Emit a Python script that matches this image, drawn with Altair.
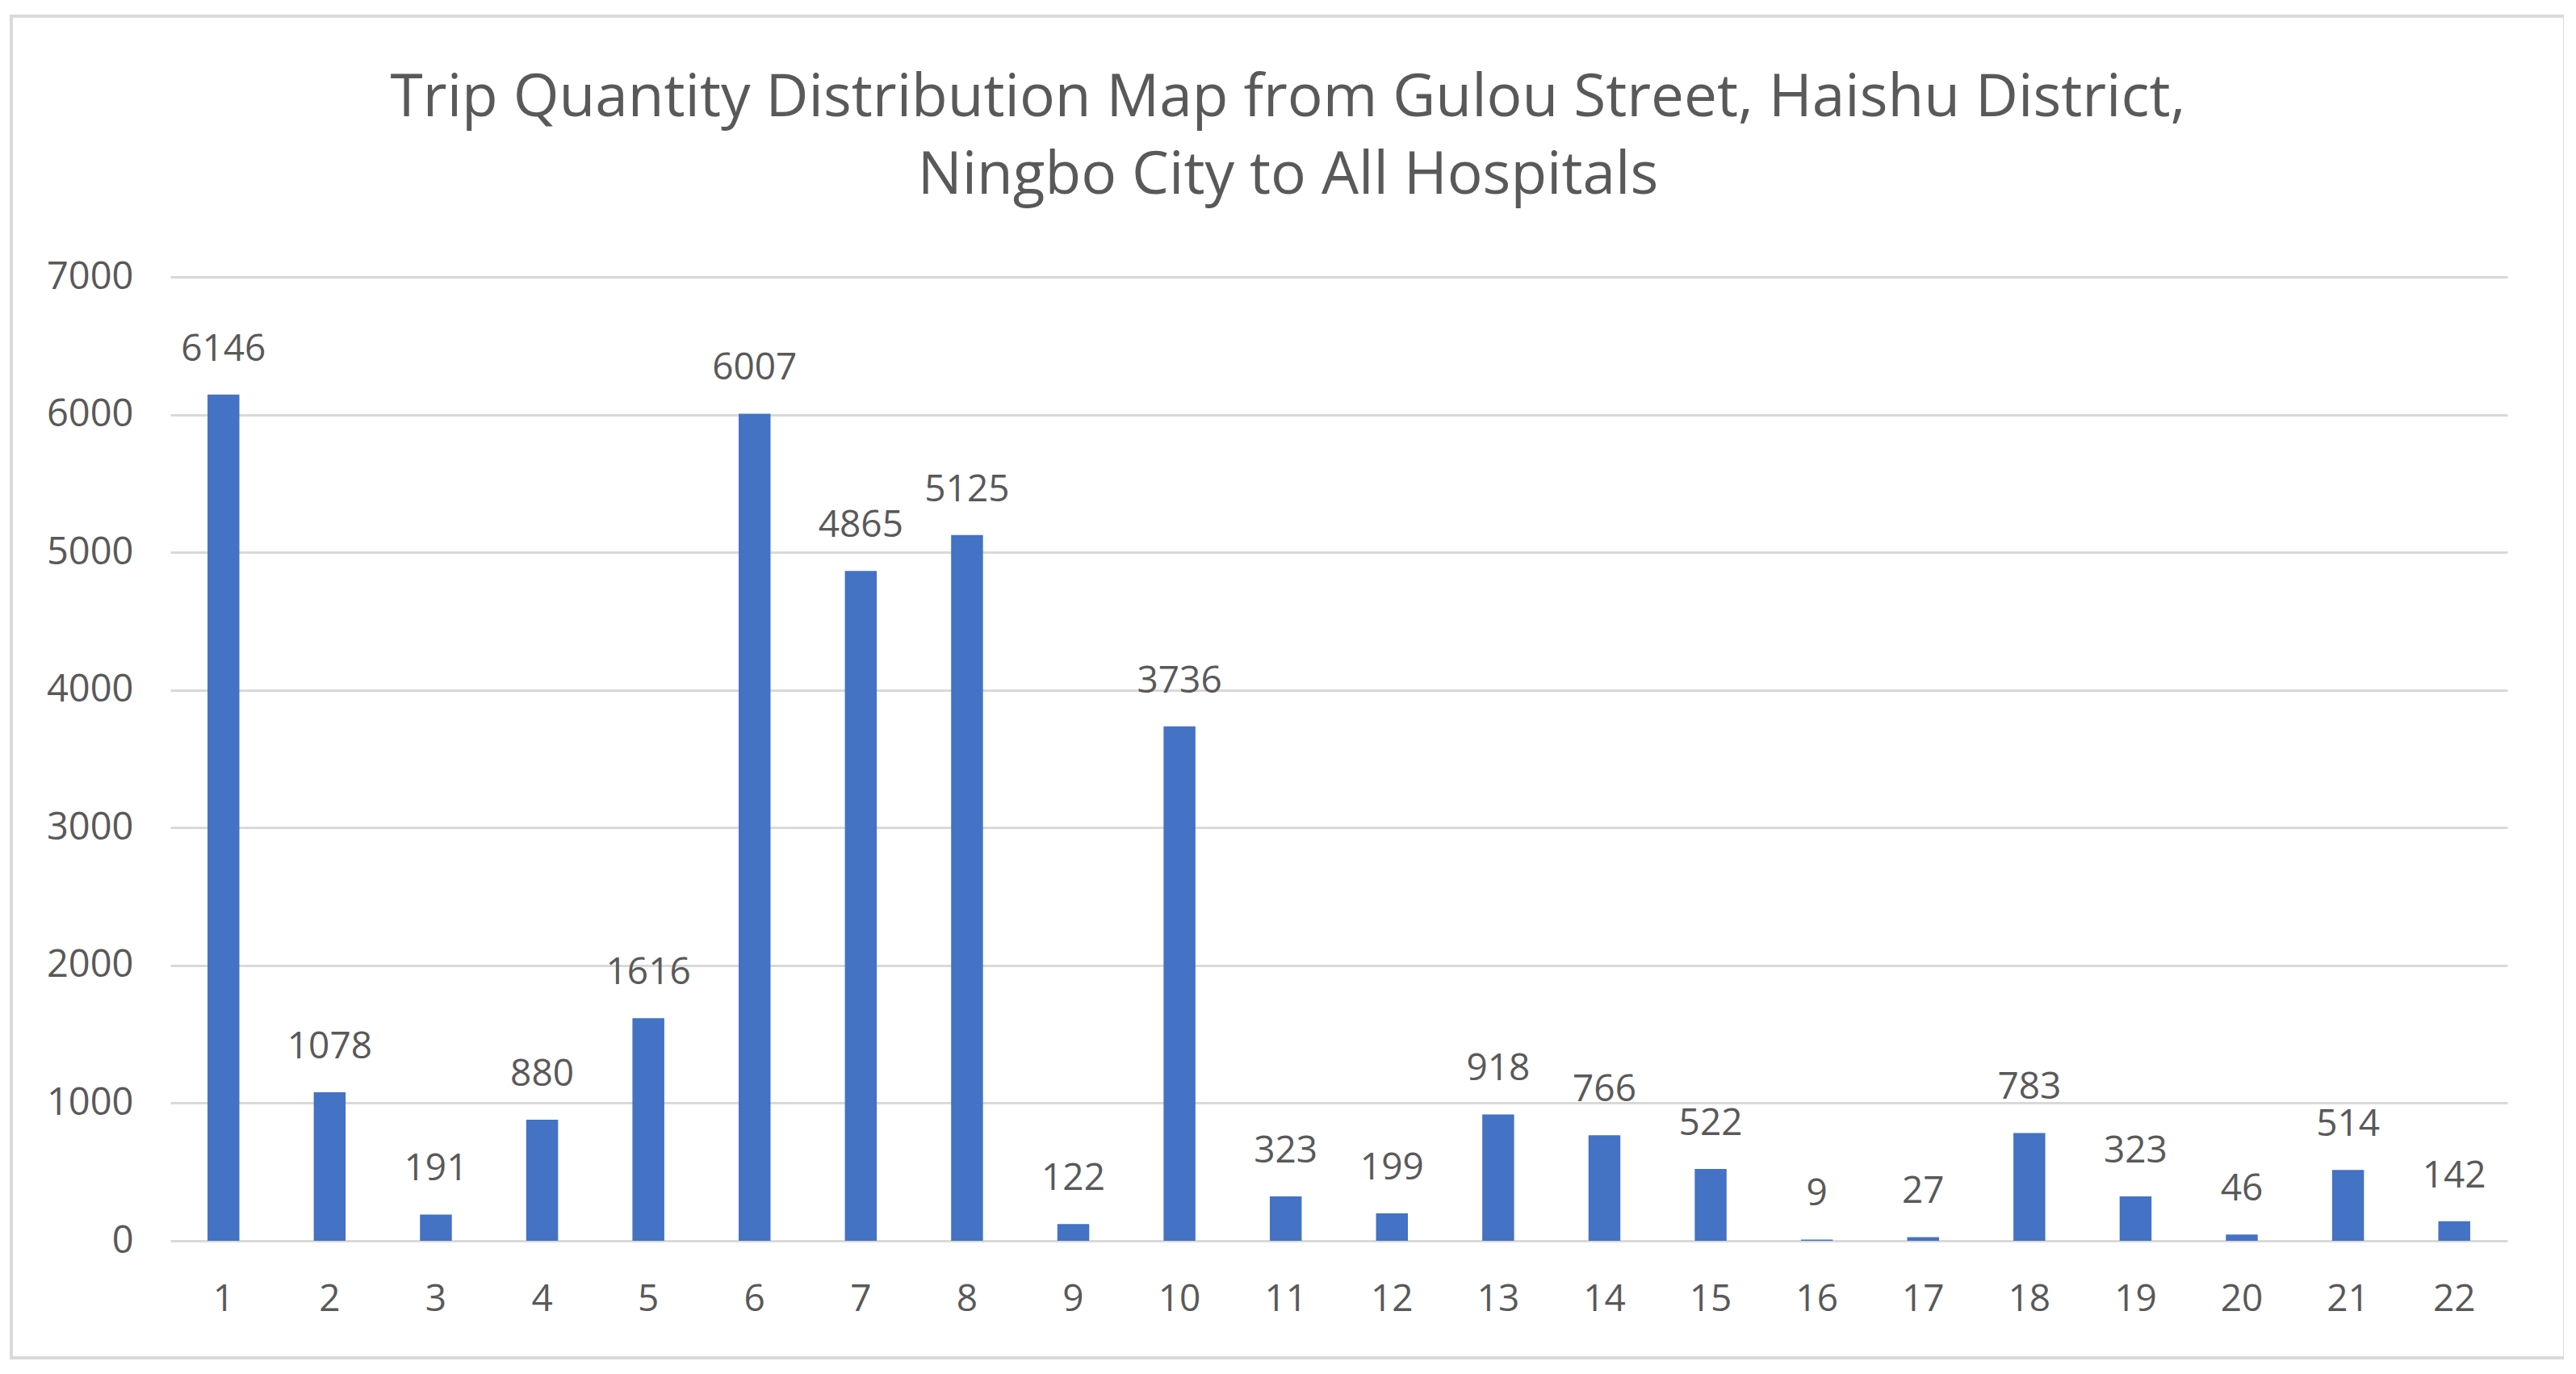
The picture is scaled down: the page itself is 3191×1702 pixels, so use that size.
import altair as alt
import pandas as pd

categories = [str(i) for i in range(1, 23)]
trips = [6146, 1078, 191, 880, 1616, 6007, 4865, 5125, 122, 3736, 323,
         199, 918, 766, 522, 9, 27, 783, 323, 46, 514, 142]
y_ticks = [0, 1000, 2000, 3000, 4000, 5000, 6000, 7000]
title_lines = ["Trip Quantity Distribution Map from Gulou Street, Haishu District,",
               "Ningbo City to All Hospitals"]

df = pd.DataFrame({"cat": categories, "trips": trips})

FONT = "Open Sans"
TXT = "#595959"
W, H = 2895, 1194

x_enc = alt.X("cat:N", sort=categories,
              scale=alt.Scale(paddingInner=0.7, paddingOuter=0.35),
              axis=alt.Axis(title=None, labelAngle=0, ticks=False, domain=False,
                            labelPadding=50, labelFontSize=46, labelColor=TXT,
                            labelFont=FONT, grid=False))
y_enc = alt.Y("trips:Q", scale=alt.Scale(domain=[0, 7000], nice=False),
              axis=alt.Axis(title=None, values=y_ticks, format="d", ticks=False,
                            domain=False, labelPadding=46, labelFontSize=47,
                            labelColor=TXT, labelFont=FONT,
                            gridColor="#D9D9D9", gridWidth=3))

bars = alt.Chart(df).mark_bar(color="#4472C4").encode(x=x_enc, y=y_enc)
labels = alt.Chart(df).mark_text(
    baseline="alphabetic", dy=-42, fontSize=46, font=FONT, color=TXT
).encode(x=alt.X("cat:N", sort=categories), y="trips:Q", text="trips:Q")

border = alt.Chart(df).mark_rect(
    fillOpacity=0, stroke="#D9D9D9", strokeWidth=3, clip=False
).encode(x=alt.value(-197), x2=alt.value(2966), y=alt.value(-323), y2=alt.value(1339))

chart = alt.layer(border, bars, labels).properties(
    width=W, height=H,
    title=alt.TitleParams(text=title_lines, anchor="middle", frame="group",
                          font=FONT, fontSize=73, fontWeight="normal",
                          baseline="bottom",
                          color=TXT, lineHeight=96, offset=-309, dx=-63),
    autosize=alt.AutoSizeParams(type="none"),
    padding={"left": 203, "top": 335, "right": 70, "bottom": 150},
).configure_view(stroke=None)

chart.save("out.html", embed_options={"renderer": "svg", "actions": False})
